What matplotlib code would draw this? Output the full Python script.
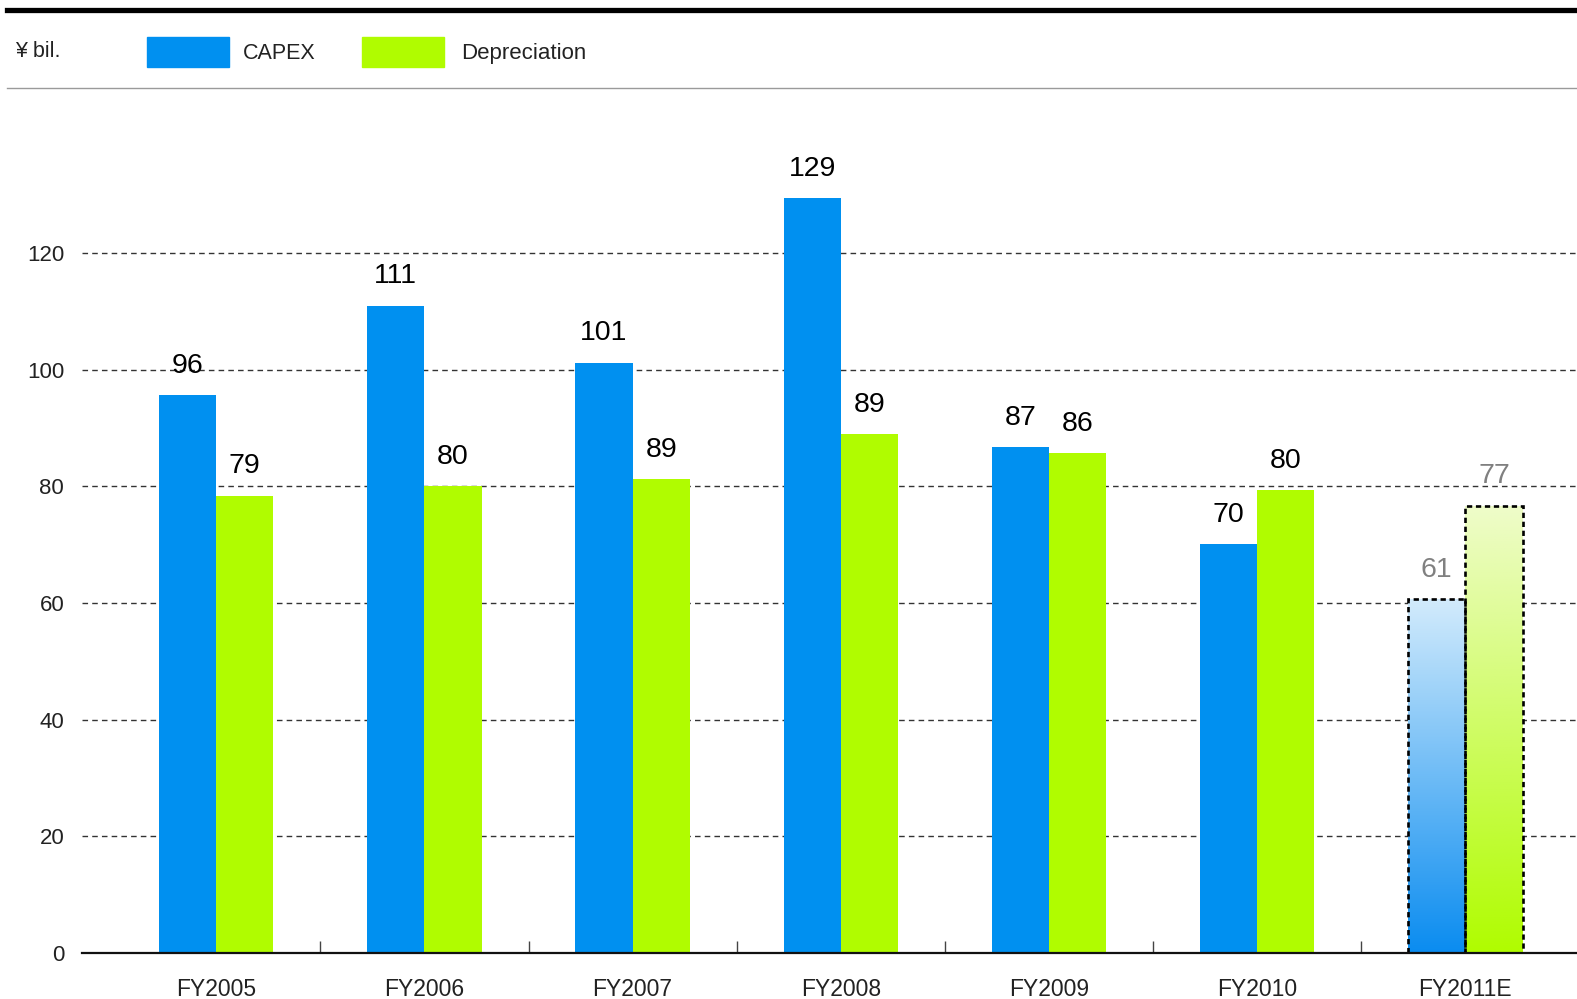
import numpy as np
import matplotlib
matplotlib.use("Agg")
import matplotlib.pyplot as plt
from matplotlib.lines import Line2D
from matplotlib.patches import Rectangle
from matplotlib.colors import LinearSegmentedColormap

plt.rcParams['font.family'] = ['Liberation Sans', 'DejaVu Sans']

# data
years = ["FY2005", "FY2006", "FY2007", "FY2008", "FY2009", "FY2010", "FY2011E"]
capex = [95.7, 111.0, 101.2, 129.4, 86.7, 70.1, 60.6]
depreciation = [78.4, 80.1, 81.2, 88.9, 85.7, 79.4, 76.7]
capex_labels = ["96", "111", "101", "129", "87", "70", "61"]
dep_labels = ["79", "80", "89", "89", "86", "80", "77"]
yticks = [0, 20, 40, 60, 80, 100, 120]

BLUE = "#0090f0"
GREEN = "#b0fc00"

fig = plt.figure(figsize=(15.77, 9.99), dpi=100)
ax = fig.add_axes([0.0517, 0.0463, 0.9483, 0.858])

x = np.arange(len(years))
w = 0.275
bars_c = ax.bar(x - w / 2, capex, w, color=BLUE, zorder=2)
bars_d = ax.bar(x + w / 2, depreciation, w, color=GREEN, zorder=2)

# last year is an estimate: gradient fill + dashed outline
def gradient_bar(patch, top_col, bot_col):
    cmap = LinearSegmentedColormap.from_list("g", [bot_col, top_col])
    bx, by = patch.get_x(), patch.get_y()
    bw, bh = patch.get_width(), patch.get_height()
    grad = np.linspace(1, 0, 256).reshape(-1, 1)
    im = ax.imshow(grad, cmap=cmap, aspect="auto", extent=[bx, bx + bw, by, by + bh],
                   zorder=2.1)
    im.set_clip_path(patch)
    patch.set_facecolor("none")
    patch.set_edgecolor("black")
    patch.set_linestyle((0, (2.0, 1.4)))
    patch.set_linewidth(1.9)
    patch.set_zorder(2.2)

gradient_bar(bars_c[-1], "#d2ebfc", "#0a8cf0")
gradient_bar(bars_d[-1], "#effcca", "#b0fc00")

for i in range(len(years)):
    col = "#808080" if i == len(years) - 1 else "black"
    ax.annotate(capex_labels[i], (x[i] - w / 2, capex[i]), xytext=(0, 21),
                textcoords="offset points", ha="center", va="center",
                fontsize=20.5, color=col)
    ax.annotate(dep_labels[i], (x[i] + w / 2, depreciation[i]), xytext=(0, 21),
                textcoords="offset points", ha="center", va="center",
                fontsize=20.5, color=col)

ax.set_xlim(-0.647, 6.536)
ax.set_ylim(0, 147)
ax.set_yticks(yticks)
ax.set_xticks(x)
ax.set_xticklabels(years)
ax.set_xticks(x[:-1] + 0.5, minor=True)
ax.tick_params(axis="y", length=0, pad=12.5, labelsize=16, labelcolor="#222222")
ax.tick_params(axis="x", which="major", length=0, pad=18, labelsize=16.5,
               labelcolor="#222222")
ax.tick_params(axis="x", which="minor", direction="in", length=9, width=1,
               color="#444444")

ax.yaxis.grid(True, color="#333333", linestyle=(0, (4, 3)), linewidth=1.0)
ax.set_axisbelow(True)
for s in ["top", "right", "left"]:
    ax.spines[s].set_visible(False)
ax.spines["bottom"].set_linewidth(1.6)
ax.spines["bottom"].set_color("#111111")

# header rules
fig.add_artist(Line2D([0.0045, 1], [0.9895, 0.9895], color="black", linewidth=3.8))
fig.add_artist(Line2D([0.0045, 1], [0.9124, 0.9124], color="#9a9a9a", linewidth=1.0))

# legend
fig.patches.append(Rectangle((0.0931, 0.9325), 0.0523, 0.0302, color=BLUE,
                             transform=fig.transFigure, figure=fig))
fig.patches.append(Rectangle((0.2296, 0.9325), 0.0517, 0.0302, color=GREEN,
                             transform=fig.transFigure, figure=fig))
fig.text(0.1543, 0.9465, "CAPEX", fontsize=15.5, va="center", color="#222222")
fig.text(0.2921, 0.9465, "Depreciation", fontsize=16, va="center", color="#222222")
fig.text(0.0096, 0.9485, "¥ bil.", fontsize=15.5, va="center", color="#222222")

fig.savefig("out.png", dpi=100)
